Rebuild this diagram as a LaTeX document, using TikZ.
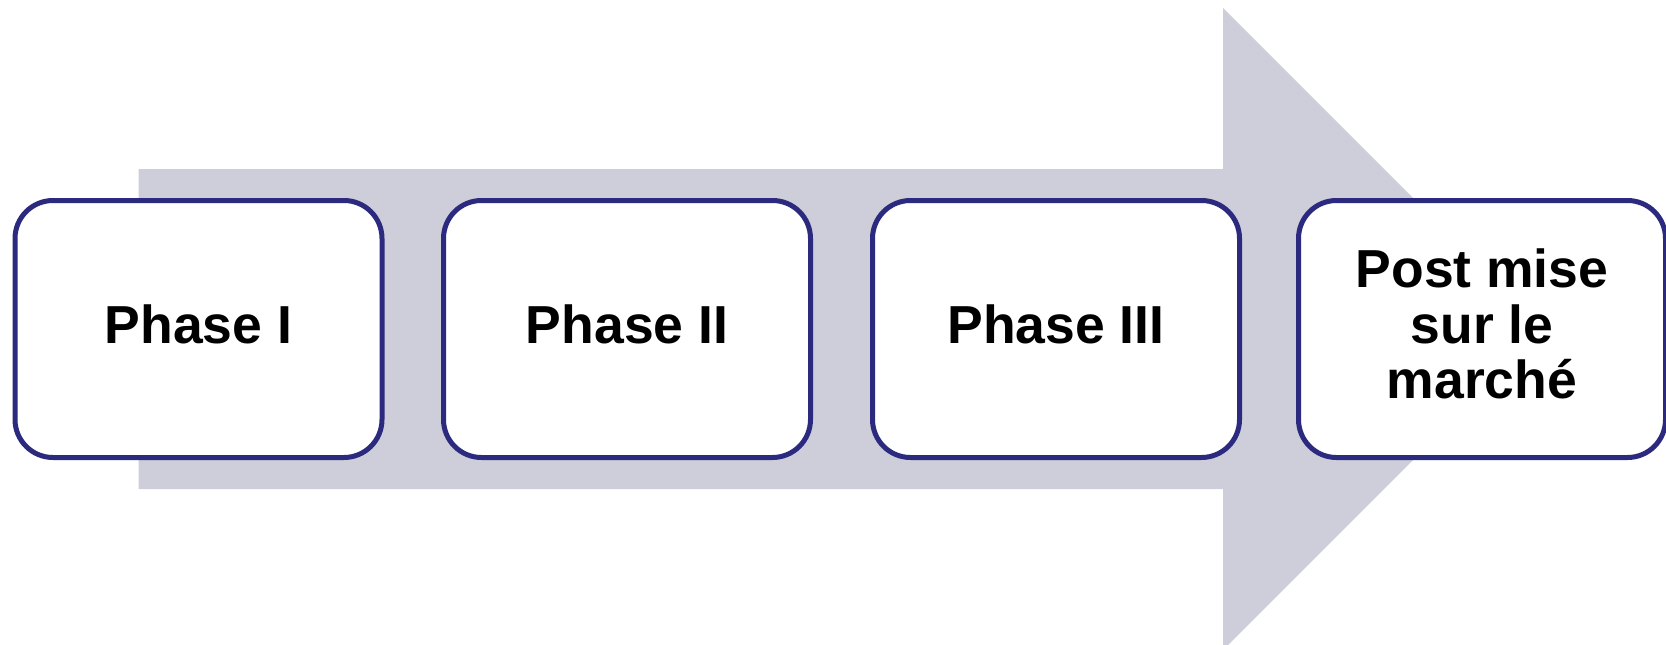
\documentclass[tikz,border=0pt]{standalone}
\usepackage{fontspec}
\setmainfont{Liberation Sans}
\definecolor{arrowfill}{RGB}{205,206,217}
\definecolor{boxline}{RGB}{43,42,126}
\begin{document}
\begin{tikzpicture}[x=1pt,y=-1pt,
  phase/.style={draw=boxline, line width=5pt, fill=white,
    rounded corners=38pt, minimum width=367pt, minimum height=257pt,
    inner sep=0pt, align=center, text depth=10pt,
    font=\fontsize{53.5}{55.5}\selectfont\bfseries}]
\useasboundingbox (0,0) rectangle (1666,645);
% broad background arrow
\begin{scope}
\clip (0,0) rectangle (1666,645);
\fill[arrowfill] (138.7,169) -- (1223,169) -- (1223,8) -- (1544,329)
  -- (1223,650) -- (1223,489) -- (138.7,489) -- cycle;
\end{scope}
% phase boxes
\node[phase] (p1) at (198.5,329) {Phase I};
\node[phase] (p2) at (627,329) {Phase II};
\node[phase] (p3) at (1056,329) {Phase III};
\node[phase] (p4) at (1482,329) {Post mise\\sur le\\marché};
\end{tikzpicture}
\end{document}
